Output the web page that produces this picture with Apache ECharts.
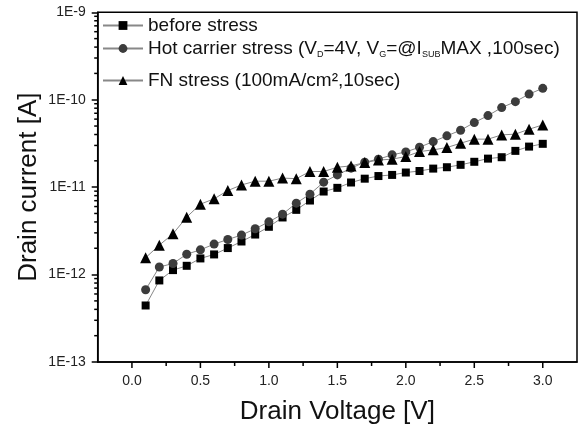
<!DOCTYPE html>
<html>
<head>
<meta charset="utf-8">
<script src="https://cdn.jsdelivr.net/npm/echarts@6/dist/echarts.min.js"></script>
<style>
    html, body { margin: 0; padding: 0; background: #fff; }
    #main { width: 580px; height: 431px; }
</style>
</head>
<body>
<div id="main"></div>
<script>
    // 数据
    var voltage = [0.1, 0.2, 0.3, 0.4, 0.5, 0.6, 0.7, 0.8, 0.9, 1.0,
        1.1, 1.2, 1.3, 1.4, 1.5, 1.6, 1.7, 1.8, 1.9, 2.0,
        2.1, 2.2, 2.3, 2.4, 2.5, 2.6, 2.7, 2.8, 2.9, 3.0];
    var beforeStress = [4.43e-13, 8.57e-13, 1.125e-12, 1.26e-12, 1.53e-12, 1.70e-12, 2.01e-12, 2.39e-12, 2.87e-12, 3.52e-12,
        4.5e-12, 5.50e-12, 7.03e-12, 8.91e-12, 9.82e-12, 1.13e-11, 1.25e-11, 1.34e-11, 1.38e-11, 1.47e-11,
        1.53e-11, 1.63e-11, 1.69e-11, 1.80e-11, 1.95e-11, 2.12e-11, 2.20e-11, 2.60e-11, 2.91e-11, 3.13e-11];
    var hotCarrier = [6.70e-13, 1.22e-12, 1.34e-12, 1.71e-12, 1.92e-12, 2.23e-12, 2.52e-12, 2.83e-12, 3.34e-12, 4.01e-12,
        4.91e-12, 6.56e-12, 8.32e-12, 1.14e-11, 1.38e-11, 1.65e-11, 1.93e-11, 2.09e-11, 2.34e-11, 2.53e-11,
        2.86e-11, 3.32e-11, 3.86e-11, 4.48e-11, 5.48e-11, 6.58e-11, 8.13e-11, 9.51e-11, 1.16e-10, 1.35e-10];
    var fnStress = [1.56e-12, 2.17e-12, 2.93e-12, 4.54e-12, 6.39e-12, 7.35e-12, 9.14e-12, 1.06e-11, 1.17e-11, 1.17e-11,
        1.27e-11, 1.25e-11, 1.51e-11, 1.51e-11, 1.69e-11, 1.75e-11, 1.91e-11, 2.04e-11, 2.09e-11, 2.24e-11,
        2.55e-11, 2.67e-11, 2.84e-11, 3.18e-11, 3.54e-11, 3.54e-11, 3.96e-11, 4.04e-11, 4.60e-11, 5.15e-11];

    // 刻度
    var xMajorTicks = [0, 0.5, 1.0, 1.5, 2.0, 2.5, 3.0];
    var xMinorTicks = [0.25, 0.75, 1.25, 1.75, 2.25, 2.75];
    var yMinorTicks = [2e-13, 3e-13, 4e-13, 5e-13, 6e-13, 7e-13, 8e-13, 9e-13,
        2e-12, 3e-12, 4e-12, 5e-12, 6e-12, 7e-12, 8e-12, 9e-12,
        2e-11, 3e-11, 4e-11, 5e-11, 6e-11, 7e-11, 8e-11, 9e-11,
        2e-10, 3e-10, 4e-10, 5e-10, 6e-10, 7e-10, 8e-10, 9e-10];

    var xMin = -0.25, xMax = 3.25, yMin = 1e-13, yMax = 1e-9;
    var names = ['before stress', 'Hot carrier stress (VD=4V, VG=@ISUBMAX ,100sec)', 'FN stress (100mA/cm2,10sec)'];

    function pairs(ys) {
        return voltage.map(function (v, i) { return [v, ys[i]]; });
    }

    function tickSeries(values, isX, len) {
        return {
            type: 'custom',
            silent: true,
            clip: false,
            z: 5,
            data: values.map(function (v) { return isX ? [v, yMin] : [xMin, v]; }),
            renderItem: function (params, api) {
                var p = api.coord([api.value(0), api.value(1)]);
                var shape = isX ? {x1: p[0], y1: p[1], x2: p[0], y2: p[1] + len}
                                : {x1: p[0] - len, y1: p[1], x2: p[0], y2: p[1]};
                return {type: 'line', shape: shape, style: {stroke: '#000', lineWidth: 1.5}};
            }
        };
    }

    var txt = {fontFamily: 'Liberation Sans', fontSize: 19, color: '#111', lineHeight: 21};
    var sub = {fontFamily: 'Liberation Sans', fontSize: 9, color: '#111', lineHeight: 10, verticalAlign: 'bottom', padding: [12, 0, 0, 0]};
    var legendBase = {orient: 'vertical', left: 102, padding: 0, itemWidth: 40, itemHeight: 11,
        textStyle: {fontFamily: 'Liberation Sans', fontSize: 19, color: '#111', rich: {t: txt, s: sub}}};

    var myChart = echarts.init(document.getElementById('main'));
    var option = {
        backgroundColor: '#fff',
        animation: false,
        grid: {left: 97.7, top: 12.3, right: 3, bottom: 69, show: true, borderColor: '#000', borderWidth: 1.5},
        legend: [
            Object.assign({}, legendBase, {top: 16, data: [names[0]]}),
            Object.assign({}, legendBase, {top: 38, data: [names[1]],
                formatter: function () {
                    return '{t|Hot carrier stress (V}{s|D}{t|=4V, V}{s|G}{t|=@I}{s|SUB}{t|MAX ,100sec)}';
                }}),
            Object.assign({}, legendBase, {top: 71, data: [names[2]],
                formatter: function () { return 'FN stress (100mA/cm\u00B2,10sec)'; }})
        ],
        xAxis: {
            type: 'value', min: xMin, max: xMax, interval: 0.25,
            name: 'Drain Voltage [V]', nameLocation: 'middle', nameGap: 37, nameMoveOverlap: false,
            nameTextStyle: {fontFamily: 'Liberation Sans', fontSize: 26, color: '#111'},
            axisLine: {lineStyle: {color: '#000', width: 1.5}},
            axisTick: {show: false},
            splitLine: {show: false},
            axisLabel: {
                margin: 12, fontFamily: 'Liberation Sans', fontSize: 14, color: '#222',
                formatter: function (v) {
                    var k = Math.round(v * 4);
                    if (k % 2 !== 0 || v < 0 || v > 3.01) return '';
                    return v.toFixed(1);
                }
            }
        },
        yAxis: {
            type: 'log', logBase: 10, min: yMin, max: yMax, splitNumber: 4,
            name: 'Drain current [A]', nameLocation: 'middle', nameGap: 56, nameMoveOverlap: false,
            nameTextStyle: {fontFamily: 'Liberation Sans', fontSize: 26, color: '#111'},
            axisLine: {show: true, onZero: false, lineStyle: {color: '#000', width: 1.5}},
            axisTick: {show: true, length: 6, lineStyle: {color: '#000', width: 1.5}},
            splitLine: {show: false},
            minorTick: {show: false},
            axisLabel: {
                margin: 12, fontFamily: 'Liberation Sans', fontSize: 14, color: '#222',
                formatter: function (v) { return '1E' + Math.round(Math.log10(v)); }
            }
        },
        series: [
            {
                name: names[0], type: 'line', data: pairs(beforeStress),
                symbol: 'rect', symbolSize: 8,
                itemStyle: {color: '#000'},
                lineStyle: {color: '#888', width: 1}
            },
            {
                name: names[1], type: 'line', data: pairs(hotCarrier),
                symbol: 'circle', symbolSize: 9,
                itemStyle: {color: '#3c3c3c'},
                lineStyle: {color: '#888', width: 1}
            },
            {
                name: names[2], type: 'line', data: pairs(fnStress),
                symbol: 'triangle', symbolSize: 11,
                itemStyle: {color: '#000'},
                lineStyle: {color: '#888', width: 1}
            },
            tickSeries(xMajorTicks, true, 6),
            tickSeries(xMinorTicks, true, 4),
            tickSeries(yMinorTicks, false, 3.5)
        ]
    };
    myChart.setOption(option);
</script>
</body>
</html>
